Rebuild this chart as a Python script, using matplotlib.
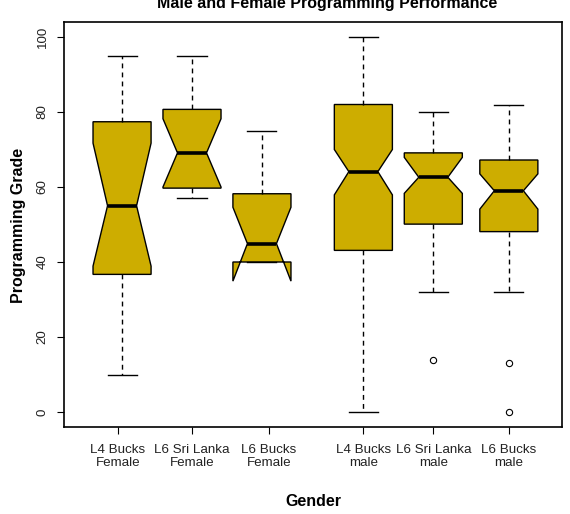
import matplotlib
matplotlib.use("Agg")
import matplotlib.pyplot as plt

plt.rcParams['font.family'] = ['Liberation Sans', 'DejaVu Sans']

# --- data ---
groups = ["L4 Bucks\nFemale", "L6 Sri Lanka\nFemale", "L6 Bucks\nFemale",
          "L4 Bucks\nmale", "L6 Sri Lanka\nmale", "L6 Bucks\nmale"]
whislo = [10, 57, 40, 0, 32, 32]
q1 = [36.7, 59.7, 40.0, 43.1, 50.1, 48.1]
med = [55.0, 69.1, 44.9, 64.1, 62.6, 59.0]
q3 = [77.4, 80.7, 58.2, 82.0, 69.1, 67.2]
whishi = [95, 95, 75, 100, 80, 82]
cilo = [38.9, 60.0, 34.9, 57.9, 58.3, 54.1]
cihi = [71.7, 78.2, 54.6, 70.0, 67.9, 63.5]
fliers = [[], [], [], [], [14], [13, 0]]

# --- layout ---
box_pos = [1.0, 2.0, 3.0, 4.45, 5.45, 6.53]
tick_pos = [0.94, 2.0, 3.1, 4.45, 5.45, 6.53]
box_w = 0.83
fill = "#CDAD00"  # gold3

stats = []
for i in range(len(groups)):
    stats.append(dict(med=med[i], q1=q1[i], q3=q3[i], whislo=whislo[i],
                      whishi=whishi[i], cilo=cilo[i], cihi=cihi[i],
                      fliers=fliers[i], label=groups[i]))

fig = plt.figure(figsize=(5.7, 5.14), dpi=100)
ax = fig.add_axes([64 / 570, 1 - 427 / 514, (562 - 64) / 570, (427 - 22) / 514])

ax.bxp(stats, positions=box_pos, widths=box_w, shownotches=True,
       patch_artist=True, capwidths=box_w / 2,
       boxprops=dict(facecolor=fill, edgecolor="black", linewidth=1.0),
       medianprops=dict(color="black", linewidth=2.6, solid_capstyle="butt"),
       whiskerprops=dict(color="black", linewidth=1.0, linestyle=(0, (3.5, 3))),
       capprops=dict(color="black", linewidth=1.0),
       flierprops=dict(marker="o", markerfacecolor="none", markeredgecolor="black",
                       markersize=4.5, markeredgewidth=0.8))

ax.set_xlim(0.17, 7.29)
ax.set_ylim(-4, 104)
ax.set_xticks(tick_pos)
ax.set_xticklabels(groups, fontsize=9.6, linespacing=1.12, color="#222222")
ax.set_yticks([0, 20, 40, 60, 80, 100])
ax.set_yticklabels(["0", "20", "40", "60", "80", "100"], fontsize=9.6,
                   rotation=90, va="center", color="#222222")
ax.tick_params(axis="both", length=5, width=0.8, color="black")
ax.tick_params(axis="x", pad=7)
ax.tick_params(axis="y", pad=6)
for s in ax.spines.values():
    s.set_linewidth(1.2)

fig.text(327 / 570, 1 - 8 / 514, "Male and Female Programming Performance",
         ha="center", va="baseline", fontsize=11.5, fontweight="bold")
fig.text(19 / 570, 1 - 225 / 514, "Programming Grade", rotation=90,
         ha="center", va="center", fontsize=11.5, fontweight="bold")
fig.text(313 / 570, 1 - 501 / 514, "Gender", ha="center", va="center",
         fontsize=11.5, fontweight="bold")

fig.savefig("out.png", dpi=100)
